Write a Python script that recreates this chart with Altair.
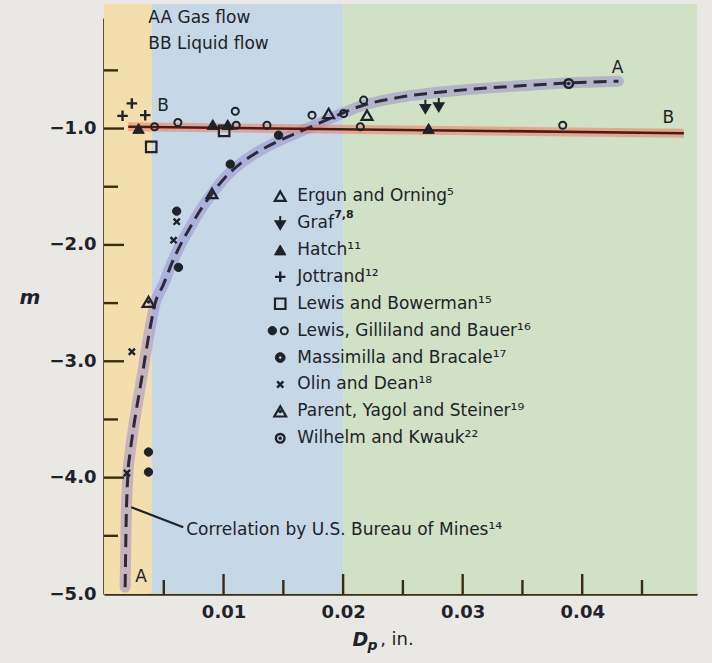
import altair as alt
import pandas as pd

FONT = "DejaVu Sans"
INK = "#1e2229"
AXIS_INK = "#3a2c10"
LINE_B = "#4a1c14"
PAPER = "#e9e8e4"

W, H = 593, 576
X_DOM = [0.0, 0.0496]
Y_DOM = [-5.0, -0.05]

# ---------------- data ----------------
# shaded D_p ranges behind the plot
band_start = [0.0, 0.004, 0.02]
band_end = [0.004, 0.02, 0.0496]
band_color = ["#f3dfad", "#c6d8e6", "#d1e1c6"]

# curve AA, gas flow
gas_dp = [0.00177, 0.00184, 0.00200, 0.00219, 0.00244, 0.00317, 0.00372, 0.00428,
          0.00495, 0.00571, 0.00638, 0.00721, 0.00805, 0.00906, 0.01015, 0.01140,
          0.01282, 0.01475, 0.01726, 0.01935, 0.02144, 0.02479, 0.02730, 0.03148,
          0.03567, 0.03884, 0.04303]
gas_m = [-4.942, -4.450, -3.970, -3.780, -3.592, -3.137, -2.793, -2.501,
         -2.346, -2.148, -2.002, -1.848, -1.702, -1.556, -1.418, -1.302,
         -1.203, -1.100, -0.988, -0.894, -0.808, -0.730, -0.696, -0.656,
         -0.627, -0.608, -0.593]

# line BB, liquid flow
liq_dp = [0.00203, 0.0485]
liq_m = [-0.985, -1.04]

# experimental points
ergun_dp = [0.00903, 0.01879, 0.02200]
ergun_m = [-1.558, -0.870, -0.885]
graf_dp = [0.02688, 0.02800]
graf_m = [-0.814, -0.799]
hatch_dp = [0.00289, 0.00910, 0.01035, 0.02715]
hatch_m = [-0.999, -0.965, -0.966, -0.999]
jottrand_dp = [0.00155, 0.00233, 0.00345]
jottrand_m = [-0.891, -0.784, -0.885]
bowerman_dp = [0.00395, 0.01005]
bowerman_m = [-1.157, -1.020]
lgb_open_dp = [0.00423, 0.00618, 0.01098, 0.01106, 0.01363, 0.01740, 0.02004,
               0.02172, 0.02144, 0.03837]
lgb_open_m = [-0.985, -0.948, -0.851, -0.971, -0.971, -0.885, -0.870,
              -0.756, -0.985, -0.971]
lgb_solid_dp = [0.01460, 0.01056, 0.00623, 0.00372, 0.00372, 0.00608]
lgb_solid_m = [-1.057, -1.306, -2.193, -3.780, -3.952, -1.710]
olin_dp = [0.00233, 0.00192, 0.00582, 0.00608]
olin_m = [-2.918, -3.960, -1.959, -1.800]
parent_dp = [0.00372]
parent_m = [-2.489]
wilhelm_dp = [0.03887]
wilhelm_m = [-0.613]

legend_names = [
    "Ergun and Orning\u2075",
    "Graf",
    "Hatch\u00b9\u00b9",
    "Jottrand\u00b9\u00b2",
    "Lewis and Bowerman\u00b9\u2075",
    "Lewis, Gilliland and Bauer\u00b9\u2076",
    "Massimilla and Bracale\u00b9\u2077",
    "Olin and Dean\u00b9\u2078",
    "Parent, Yagol and Steiner\u00b9\u2079",
    "Wilhelm and Kwauk\u00b2\u00b2",
]

x_major = [0.01, 0.02, 0.03, 0.04]
x_minor = [0.005, 0.015, 0.025, 0.035, 0.045]
y_major = [-1.0, -2.0, -3.0, -4.0]
y_minor = [-0.5, -1.5, -2.5, -3.5, -4.5]
y_labels = [-1.0, -2.0, -3.0, -4.0, -5.0]

# ---------------- helpers ----------------
XS = alt.Scale(domain=X_DOM, nice=False, zero=False)
YS = alt.Scale(domain=Y_DOM, nice=False, zero=False)

X_AXIS = alt.Axis(values=x_major, format=".2f", ticks=False, grid=False,
                  domain=True, domainColor=AXIS_INK, domainWidth=2.6,
                  labelFont=FONT, labelFontSize=18, labelFontWeight="bold",
                  labelColor=INK, labelPadding=9, title=None)
Y_AXIS = alt.Axis(values=y_labels, format=".1f", ticks=False, grid=False,
                  domain=True, domainColor=AXIS_INK, domainWidth=2.6,
                  labelFont=FONT, labelFontSize=18, labelFontWeight="bold",
                  labelColor=INK, labelPadding=8, title=None)


def xe(field):
    return alt.X(f"{field}:Q", scale=XS, axis=X_AXIS)


def ye(field):
    return alt.Y(f"{field}:Q", scale=YS, axis=Y_AXIS)


def points(xs, ys, shape, size, filled, sw=2.0, color=INK):
    df = pd.DataFrame({"x": xs, "y": ys})
    if filled:
        mk = alt.Chart(df).mark_point(shape=shape, size=size, filled=True, fill=color,
                                      stroke=color, strokeWidth=sw, opacity=1)
    else:
        mk = alt.Chart(df).mark_point(shape=shape, size=size, filled=False,
                                      stroke=color, strokeWidth=sw, opacity=1)
    return mk.encode(x=xe("x"), y=ye("y"))


def label(xs, ys, texts, size=17, align="left", **kw):
    df = pd.DataFrame({"x": xs, "y": ys, "t": texts})
    return alt.Chart(df).mark_text(font=FONT, fontSize=size, align=align,
                                   baseline="middle", color=INK, **kw).encode(
        x=xe("x"), y=ye("y"), text="t:N")


PLUS = "M-1,0L1,0M0,-1L0,1"
CROSS = "M-0.8,-0.8L0.8,0.8M-0.8,0.8L0.8,-0.8"
ARROW = "M0,-1.15L0,-0.3M-0.75,-0.3L0.75,-0.3L0,0.95Z"


def symbol_set(key, xs, ys):
    """Marker(s) for one data source."""
    if key == "ergun":
        return [points(xs, ys, "triangle-up", 120, False, 2.2)]
    if key == "graf":
        return [points(xs, ys, ARROW, 150, True, 2.0)]
    if key == "hatch":
        return [points(xs, ys, "triangle-up", 130, True, 1.0)]
    if key == "jottrand":
        return [points(xs, ys, PLUS, 110, False, 2.4)]
    if key == "bowerman":
        return [points(xs, ys, "square", 110, False, 2.2)]
    if key == "lgb_open":
        return [points(xs, ys, "circle", 50, False, 2.0)]
    if key == "lgb_solid":
        return [points(xs, ys, "circle", 70, True, 1.0)]
    if key == "massimilla":
        return [points(xs, ys, "circle", 95, True, 1.0),
                points(xs, ys, "circle", 5, True, 0.3, "#d9dccf")]
    if key == "olin":
        return [points(xs, ys, CROSS, 60, False, 2.4)]
    if key == "parent":
        return [points(xs, ys, "triangle-up", 140, False, 2.2),
                points(xs, ys, "circle", 10, True, 0.5)]
    if key == "wilhelm":
        return [points(xs, ys, "circle", 75, False, 2.4),
                points(xs, ys, "circle", 10, True, 0.5)]
    return []


# ---------------- layers ----------------
layers = []

bands = alt.Chart(pd.DataFrame({"a": band_start, "b": band_end, "c": band_color})).mark_rect(
    clip=False).encode(
    x=xe("a"), x2="b:Q", y=alt.value(-14), y2=alt.value(H),
    color=alt.Color("c:N", scale=None))
layers.append(bands)

gas_df = pd.DataFrame({"x": gas_dp, "y": gas_m})
liq_df = pd.DataFrame({"x": liq_dp, "y": liq_m})

layers.append(alt.Chart(gas_df).mark_line(strokeWidth=11, color="#8b78cf", opacity=0.42,
                                          interpolate="monotone", strokeCap="round").encode(
    x=xe("x"), y=ye("y")))
layers.append(alt.Chart(liq_df).mark_line(strokeWidth=9, color="#ee7a64", opacity=0.55).encode(
    x=xe("x"), y=ye("y")))
layers.append(alt.Chart(gas_df).mark_line(strokeWidth=3, color="#2c2a36", strokeDash=[13, 7],
                                          interpolate="monotone").encode(
    x=xe("x"), y=ye("y")))
layers.append(alt.Chart(liq_df).mark_line(strokeWidth=2.6, color=LINE_B).encode(
    x=xe("x"), y=ye("y")))

# inward tick marks
layers.append(alt.Chart(pd.DataFrame({"t": x_major})).mark_rule(
    color=AXIS_INK, strokeWidth=2.4).encode(x=xe("t"), y=alt.value(H), y2=alt.value(H - 20)))
layers.append(alt.Chart(pd.DataFrame({"t": x_minor})).mark_rule(
    color=AXIS_INK, strokeWidth=2.4).encode(x=xe("t"), y=alt.value(H), y2=alt.value(H - 14)))
layers.append(alt.Chart(pd.DataFrame({"t": y_major})).mark_rule(
    color=AXIS_INK, strokeWidth=2.4).encode(y=ye("t"), x=alt.value(0), x2=alt.value(20)))
layers.append(alt.Chart(pd.DataFrame({"t": y_minor})).mark_rule(
    color=AXIS_INK, strokeWidth=2.4).encode(y=ye("t"), x=alt.value(0), x2=alt.value(14)))

# data points
series = [
    ("ergun", ergun_dp, ergun_m), ("graf", graf_dp, graf_m), ("hatch", hatch_dp, hatch_m),
    ("jottrand", jottrand_dp, jottrand_m), ("bowerman", bowerman_dp, bowerman_m),
    ("lgb_open", lgb_open_dp, lgb_open_m), ("lgb_solid", lgb_solid_dp, lgb_solid_m),
    ("olin", olin_dp, olin_m), ("parent", parent_dp, parent_m),
    ("wilhelm", wilhelm_dp, wilhelm_m),
]
for key, xs, ys in series:
    layers.extend(symbol_set(key, xs, ys))

# key block
LEG_SYM_X = 0.01474
LEG_TXT_X = 0.01617
LEG_TOP = -1.581
LEG_STEP = 0.2312
leg_y = [LEG_TOP - i * LEG_STEP for i in range(len(legend_names))]
leg_keys = ["ergun", "graf", "hatch", "jottrand", "bowerman", None, "massimilla",
            "olin", "parent", "wilhelm"]
for i, key in enumerate(leg_keys):
    if key is None:
        layers.extend(symbol_set("lgb_solid", [0.01408], [leg_y[i]]))
        layers.extend(symbol_set("lgb_open", [0.01508], [leg_y[i]]))
    else:
        layers.extend(symbol_set(key, [LEG_SYM_X], [leg_y[i]]))
layers.append(label([LEG_TXT_X] * len(legend_names), leg_y, legend_names, size=17))
layers.append(label([0.01925], [leg_y[1]], ["7,8"], size=11, fontWeight="bold", dy=-8))

# annotations
layers.append(label([0.00371, 0.00371], [-0.052, -0.275],
                    ["AA Gas flow", "BB Liquid flow"], size=17))
layers.append(label([0.04295, 0.00311, 0.00495, 0.04721], [-0.481, -4.856, -0.808, -0.911],
                    ["A", "A", "B", "B"], size=17, align="center"))
layers.append(label([0.00688], [-4.452], ["Correlation by U.S. Bureau of Mines\u00b9\u2074"], size=17))
layers.append(alt.Chart(pd.DataFrame({"x": [0.00663, 0.00228], "y": [-4.426, -4.254]})).mark_line(
    color=INK, strokeWidth=2.2).encode(x=xe("x"), y=ye("y")))

# axis titles
layers.append(alt.Chart(pd.DataFrame({"y": [-2.46], "t": ["m"]})).mark_text(
    font=FONT, fontSize=20, fontStyle="italic", fontWeight="bold", color=INK,
    align="center", baseline="middle").encode(x=alt.value(-74), y=ye("y"), text="t:N"))
xt = pd.DataFrame({"x": [0.02078, 0.02203, 0.02310], "t": ["D", "p", ", in."]})
layers.append(alt.Chart(xt.iloc[[0]]).mark_text(
    font=FONT, fontSize=19, fontStyle="italic", fontWeight="bold", color=INK,
    align="left", baseline="middle").encode(x=xe("x"), y=alt.value(622), text="t:N"))
layers.append(alt.Chart(xt.iloc[[1]]).mark_text(
    font=FONT, fontSize=14, fontStyle="italic", fontWeight="bold", color=INK,
    align="left", baseline="middle").encode(x=xe("x"), y=alt.value(628), text="t:N"))
layers.append(alt.Chart(xt.iloc[[2]]).mark_text(
    font=FONT, fontSize=18, color=INK,
    align="left", baseline="middle").encode(x=xe("x"), y=alt.value(622), text="t:N"))

chart = alt.layer(*layers).properties(
    width=W, height=H,
    padding={"left": 104, "top": 18, "right": 15, "bottom": 69},
    autosize=alt.AutoSizeParams(type="none"),
    background=PAPER,
).configure_view(stroke=None)

chart.save("out.html", embed_options={"renderer": "svg", "actions": False})
